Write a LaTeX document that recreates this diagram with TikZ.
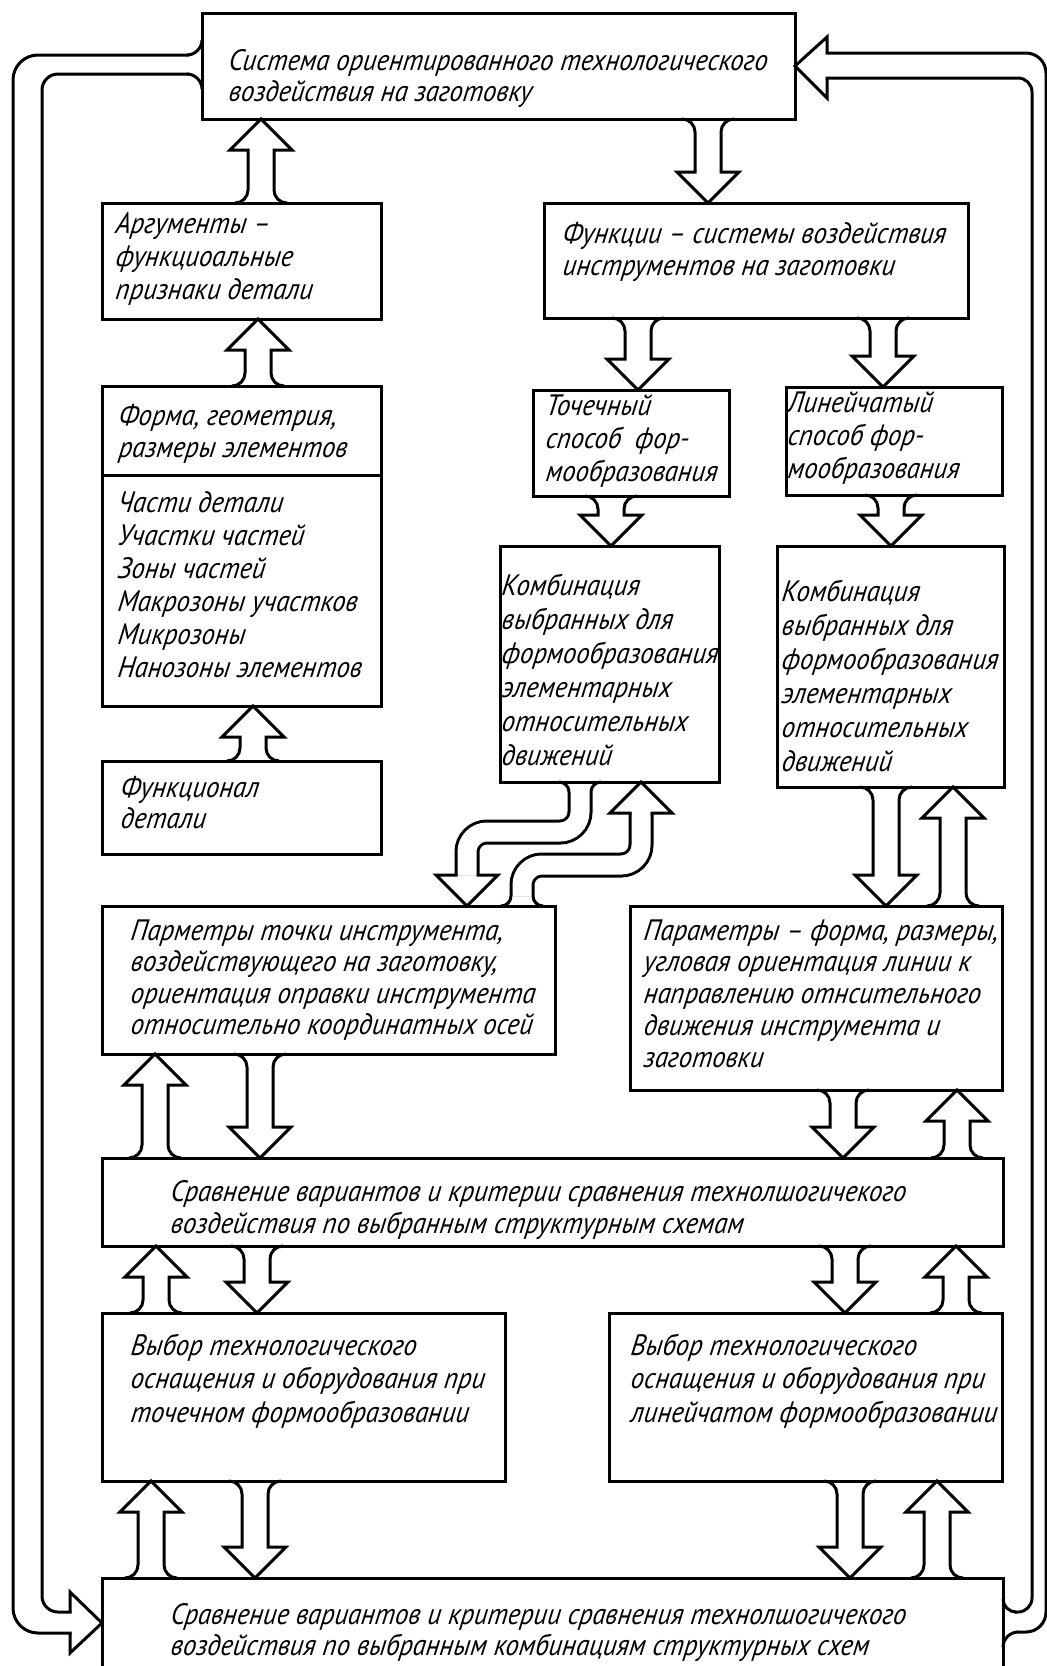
\documentclass[tikz,border=0pt]{standalone}
\usepackage{fontspec}
\setmainfont{PT Sans}[FakeStretch=0.9, ItalicFeatures={FakeSlant=0.12}]
\usetikzlibrary{calc}
\def\BAw{13}\def\BAh{31}\def\BAl{31}\def\BAr{13}\def\BFr{10}
\tikzset{
  box/.style={draw, line width=3pt, outer sep=0pt, inner sep=0pt, anchor=north west},
  txt/.style={anchor=north west, align=left, inner sep=0pt, font=\fontsize{29.5pt}{#1pt}\selectfont\itshape},
  txt/.default=33,
  blk/.style={draw, line width=3pt, line join=miter},
  loopl/.style={draw, line width=3pt, line cap=rect},
  sline/.style={line width=3pt, double=white, double distance=19pt},
}
\newcommand\blockarrow[4]{%
 \coordinate (bax) at (#1,0);
 \coordinate (baT) at (bax |- #2);
 \coordinate (baH) at (bax |- #3);
 \draw[blk] ($(baT)+({-\BAw-\BAr},0)$) .. controls ($(baT)+({-\BAw-0.45*\BAr},0)$) and ($(baT)+({-\BAw},{0.45*\BAr*(#4)})$) .. ($(baT)+({-\BAw},{\BAr*(#4)})$)
  -- ($(baH)+({-\BAw},{-\BAl*(#4)})$) -- ($(baH)+({-\BAh},{-\BAl*(#4)})$) -- (baH)
  -- ($(baH)+({\BAh},{-\BAl*(#4)})$) -- ($(baH)+({\BAw},{-\BAl*(#4)})$)
  -- ($(baT)+({\BAw},{\BAr*(#4)})$) .. controls ($(baT)+({\BAw},{0.45*\BAr*(#4)})$) and ($(baT)+({\BAw+0.45*\BAr},0)$) .. ($(baT)+({\BAw+\BAr},0)$);
}
\newcommand\tailflare[4]{%
 \coordinate (bax) at (#1,0);
 \coordinate (baT) at (bax |- #2);
 \draw[blk] ($(baT)+({-#4-\BFr},0)$) .. controls ($(baT)+({-#4-0.45*\BFr},0)$) and ($(baT)+({-#4},{0.45*\BFr*(#3)})$) .. ($(baT)+({-#4},{\BFr*(#3)})$);
 \draw[blk] ($(baT)+({#4+\BFr},0)$) .. controls ($(baT)+({#4+0.45*\BFr},0)$) and ($(baT)+({#4},{0.45*\BFr*(#3)})$) .. ($(baT)+({#4},{\BFr*(#3)})$);
}
\newcommand\headonly[4]{%
 \coordinate (bax) at (#1,0);
 \coordinate (baH) at (bax |- #2);
 \draw[blk, line cap=rect] ($(baH)+({-#4},{-\BAl*(#3)})$) -- ($(baH)+({-\BAh},{-\BAl*(#3)})$) -- (baH) -- ($(baH)+({\BAh},{-\BAl*(#3)})$) -- ($(baH)+({#4},{-\BAl*(#3)})$);
}
\begin{document}
\begin{tikzpicture}[x=1pt,y=-1pt]
\useasboundingbox (0,0) rectangle (1047,1666);
\clip (0,0) rectangle (1047,1666);
\fill[white] (0,0) rectangle (1047,1666);

% boxes
\node[box, minimum width=593pt, minimum height=106pt] (sys) at (202,13) {};
\node[box, minimum width=279pt, minimum height=116pt] (arg) at (102,203) {};
\node[box, minimum width=279pt, minimum height=320pt] (form) at (102,386) {};
\node[box, minimum width=279pt, minimum height=93pt] (fnl) at (102,761) {};
\node[box, minimum width=424pt, minimum height=115pt] (func) at (544,203) {};
\node[box, minimum width=196pt, minimum height=106pt] (tochk) at (533,390) {};
\node[box, minimum width=216pt, minimum height=108pt] (lin) at (786,387) {};
\node[box, minimum width=219pt, minimum height=236pt] (kombL) at (500,546) {};
\node[box, minimum width=227pt, minimum height=241pt] (kombR) at (777,546) {};
\node[box, minimum width=453pt, minimum height=148pt] (parT) at (102,906) {};
\node[box, minimum width=372pt, minimum height=184pt] (parF) at (630,906) {};
\node[box, minimum width=901pt, minimum height=88pt] (cmp1) at (102,1158) {};
\node[box, minimum width=403pt, minimum height=168pt] (vybL) at (102,1313) {};
\node[box, minimum width=393pt, minimum height=168pt] (vybR) at (609,1313) {};
\node[box, minimum width=901pt, minimum height=150pt] (cmp2) at (102,1578) {};
\draw[line width=3pt] ($(form.north west)+(0,89)$) -- ($(form.north east)+(0,89)$);

% texts
\node[txt=30] (tsys) at ($(sys.north west)+(26,36)$) {\strut Система ориентированного технологического\\воздействия на заготовку};
\node[txt=33] (targ) at ($(arg.north west)+(13,7)$) {\strut Аргументы –\\функциоальные\\признаки детали};
\node[txt=32] (tforma) at ($(form.north west)+(16,16.6)$) {\strut Форма, геометрия,\\размеры элементов};
\node[txt=33] (tformb) at ($(form.north west)+(15,102.9)$) {\strut Части детали\\Участки частей\\Зоны частей\\Макрозоны участков\\Микрозоны\\Нанозоны элементов};
\node[txt=31] (tfnl) at ($(fnl.north west)+(18,14.3)$) {\strut Функционал\\детали};
\node[txt=32] (tfunc) at ($(func.north west)+(18,17.6)$) {\strut Функции – системы воздействия\\инструментов на заготовки};
\node[txt=33] (ttochk) at ($(tochk.north west)+(12,1.9)$) {\strut Точечный\\способ\ \ фор-\\мообразования};
\node[txt=33] (tlin) at ($(lin.north west)+(1,1.9)$) {\strut Линейчатый\\способ фор-\\мообразования};
\node[txt=34] (tkombl) at ($(kombL.north west)+(1,25.2)$) {\strut Комбинация\\выбранных для\\формообразования\\элементарных\\относительных\\движений};
\node[txt=34] (tkombr) at ($(kombR.north west)+(4,31.2)$) {\strut Комбинация\\выбранных для\\формообразования\\элементарных\\относительных\\движений};
\node[txt=31.5] (tpart) at ($(parT.north west)+(28,12)$) {\strut Парметры точки инструмента,\\воздействующего на заготовку,\\ориентация оправки инструмента\\относительно координатных осей};
\node[txt=31.7] (tparf) at ($(parF.north west)+(13,11.8)$) {\strut Параметры – форма, размеры,\\угловая ориентация линии к\\направлению отнсительного\\движения инструмента и\\заготовки};
\node[txt=32] (tcmp1) at ($(cmp1.north west)+(68,20.6)$) {\strut Сравнение вариантов и критерии сравнения технолшогичекого\\воздействия по выбранным структурным схемам};
\node[txt=33.5] (tvybl) at ($(vybL.north west)+(28,18.5)$) {\strut Выбор технологического\\оснащения и оборудования при\\точечном формообразовании};
\node[txt=33.5] (tvybr) at ($(vybR.north west)+(21,18.5)$) {\strut Выбор технологического\\оснащения и оборудования при\\линейчатом формообразовании};
\node[txt=31] (tcmp2) at ($(cmp2.north west)+(68,24.3)$) {\strut Сравнение вариантов и критерии сравнения технолшогичекого\\воздействия по выбранным комбинациям структурных схем};

% straight block arrows: x, tail, tip, dir (1 down, -1 up)
\blockarrow{261}{arg.north}{sys.south}{-1}
\blockarrow{708}{sys.south}{func.north}{1}
\blockarrow{258}{form.north}{arg.south}{-1}
\blockarrow{253}{fnl.north}{form.south}{-1}
\blockarrow{638}{func.south}{tochk.north}{1}
\blockarrow{883}{func.south}{lin.north}{1}
\blockarrow{611}{tochk.south}{kombL.north}{1}
\blockarrow{891}{lin.south}{kombR.north}{1}
\blockarrow{886}{kombR.south}{parF.north}{1}
\blockarrow{953}{parF.north}{kombR.south}{-1}
\blockarrow{155}{cmp1.north}{parT.south}{-1}
\blockarrow{260}{parT.south}{cmp1.north}{1}
\blockarrow{843}{parF.south}{cmp1.north}{1}
\blockarrow{957}{cmp1.north}{parF.south}{-1}
\blockarrow{156}{vybL.north}{cmp1.south}{-1}
\blockarrow{257}{cmp1.south}{vybL.north}{1}
\blockarrow{845}{cmp1.south}{vybR.north}{1}
\blockarrow{956}{vybR.north}{cmp1.south}{-1}
\blockarrow{151}{cmp2.north}{vybL.south}{-1}
\blockarrow{255}{vybL.south}{cmp2.north}{1}
\blockarrow{850}{vybR.south}{cmp2.north}{1}
\blockarrow{937}{cmp2.north}{vybR.south}{-1}

% S-shaped arrows between kombL and parT
\coordinate (sx1) at (580,0); \coordinate (s1T) at (sx1 |- kombL.south);
\coordinate (sx2) at (467,0); \coordinate (s1H) at (sx2 |- parT.north);
\draw[sline, rounded corners=20pt] ($(s1T)+(0,10)$) -- (580,832) -- (467,832) -- ($(s1H)+(0,-31)$);
\tailflare{580}{kombL.south}{1}{11}
\headonly{467}{parT.north}{1}{11}

\coordinate (sx3) at (522,0); \coordinate (s2T) at (sx3 |- parT.north);
\coordinate (sx4) at (641,0); \coordinate (s2H) at (sx4 |- kombL.south);
\draw[sline, rounded corners=20pt] ($(s2T)+(0,-10)$) -- (522,865) -- (641,865) -- ($(s2H)+(0,31)$);
\tailflare{522}{parT.north}{-1}{11}
\headonly{641}{kombL.south}{-1}{11}

% left feedback loop (sys -> cmp2)
\coordinate (lo1) at ($(sys.north west)+(0,27)$);
\coordinate (lo2) at ($(sys.north west)+(0,76)$);
\coordinate (ltip) at ($(cmp2.north west)+(0,45)$);
\draw[blk] (lo1) .. controls ($(lo1)+(0,8)$) and ($(lo1)+(-7,15)$) .. ($(lo1)+(-15,15)$);
\draw[loopl, rounded corners=25pt] ($(lo1)+(-15,15)$) -- (13,55) -- (13,1633) -- (70,1633);
\draw[blk] (70,1633) -- (70,1653) -- (ltip) -- (70,1592) -- (70,1612);
\draw[loopl, rounded corners=16pt] (70,1612) -- (42,1612) -- (42,74) -- ($(lo2)+(-15,-15)$);
\draw[blk] ($(lo2)+(-15,-15)$) .. controls ($(lo2)+(-7,-15)$) and ($(lo2)+(0,-8)$) .. (lo2);

% right feedback loop (cmp2 -> sys)
\coordinate (ro1) at ($(cmp2.north east)+(0,69)$);
\coordinate (ro2) at ($(cmp2.north east)+(0,21)$);
\draw[blk] (827,53) -- (827,37) -- (sys.east) -- (827,98) -- (827,78);
\draw[loopl, rounded corners=20pt] (827,53) -- (1046,53) -- (1046,1632) -- ($(ro1)+(15,-15)$);
\draw[blk] ($(ro1)+(15,-15)$) .. controls ($(ro1)+(7,-15)$) and ($(ro1)+(0,-8)$) .. (ro1);
\draw[loopl, rounded corners=14pt] (827,78) -- (1032,78) -- (1032,1612) -- ($(ro2)+(13,13)$);
\draw[blk] ($(ro2)+(13,13)$) .. controls ($(ro2)+(6,13)$) and ($(ro2)+(0,7)$) .. (ro2);
\end{tikzpicture}
\end{document}
